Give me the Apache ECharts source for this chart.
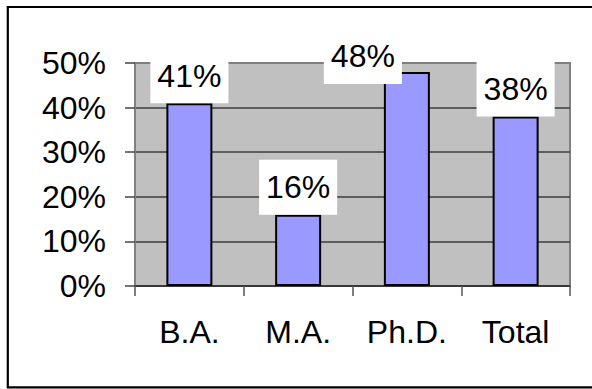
<!DOCTYPE html>
<html>
<head>
<meta charset="utf-8">
<script src="https://cdn.jsdelivr.net/npm/echarts@6/dist/echarts.min.js"></script>
<style>
  html, body { margin: 0; padding: 0; background: #fff; }
  #chart { width: 592px; height: 389px; }
</style>
</head>
<body>
<div id="chart"></div>
<script>
// Share of respondents by degree level
const categories = ['B.A.', 'M.A.', 'Ph.D.', 'Total'];
const values = [41, 16, 48, 38];
const yTickLabels = ['0%', '10%', '20%', '30%', '40%', '50%'];

const FONT = '"Liberation Sans", Arial, Helvetica, sans-serif';

// The Ph.D. label sits shifted left of its bar and nudged down
const labelOffsets = [[0, 0], [0, 0], [-44, 12], [0, 0]];

const barData = values.map((v, i) => ({
  value: v,
  label: { offset: labelOffsets[i] }
}));

const chart = echarts.init(document.getElementById('chart'), null, { renderer: 'svg' });

chart.setOption({
  animation: false,
  backgroundColor: '#ffffff',
  graphic: [{
    type: 'rect',
    z: 100,
    shape: { x: 7.8, y: 7, width: 590, height: 380.3 },
    style: { fill: 'none', stroke: '#000', lineWidth: 2.2 }
  }],
  grid: {
    left: 135, right: 22, top: 63, bottom: 103,
    show: true,
    backgroundColor: '#c0c0c0',
    borderColor: '#808080',
    borderWidth: 2
  },
  xAxis: {
    type: 'category',
    data: categories,
    axisLine: { lineStyle: { color: '#333', width: 1.5 } },
    axisTick: { show: true, length: 10, lineStyle: { color: '#555', width: 1.5 } },
    axisLabel: {
      color: '#000', fontFamily: FONT, fontSize: 32, margin: 30
    }
  },
  yAxis: {
    type: 'value',
    min: 0, max: 50, interval: 10,
    axisLine: { show: true, lineStyle: { color: '#808080', width: 2 } },
    axisTick: { show: true, length: 10, lineStyle: { color: '#444', width: 1.5 } },
    axisLabel: {
      color: '#000', fontFamily: FONT, fontSize: 32, margin: 29,
      padding: [6, 0, 0, 0],
      formatter: (v) => yTickLabels[Math.round(v / 10)]
    },
    splitLine: {
      show: true,
      lineStyle: {
        color: ['#3c3c3c', '#3c3c3c', '#3c3c3c', '#3c3c3c', '#3c3c3c', '#808080'],
        width: 1.5
      }
    }
  },
  series: [{
    type: 'bar',
    data: barData,
    barWidth: 46,
    itemStyle: { color: '#9999ff', borderColor: '#000', borderWidth: 2 },
    label: {
      show: true,
      position: 'top',
      distance: 0,
      color: '#000',
      fontFamily: FONT,
      fontSize: 32,
      backgroundColor: '#ffffff',
      padding: [11.5, 7],
      formatter: (p) => p.value + '%'
    }
  }]
});
</script>
</body>
</html>
